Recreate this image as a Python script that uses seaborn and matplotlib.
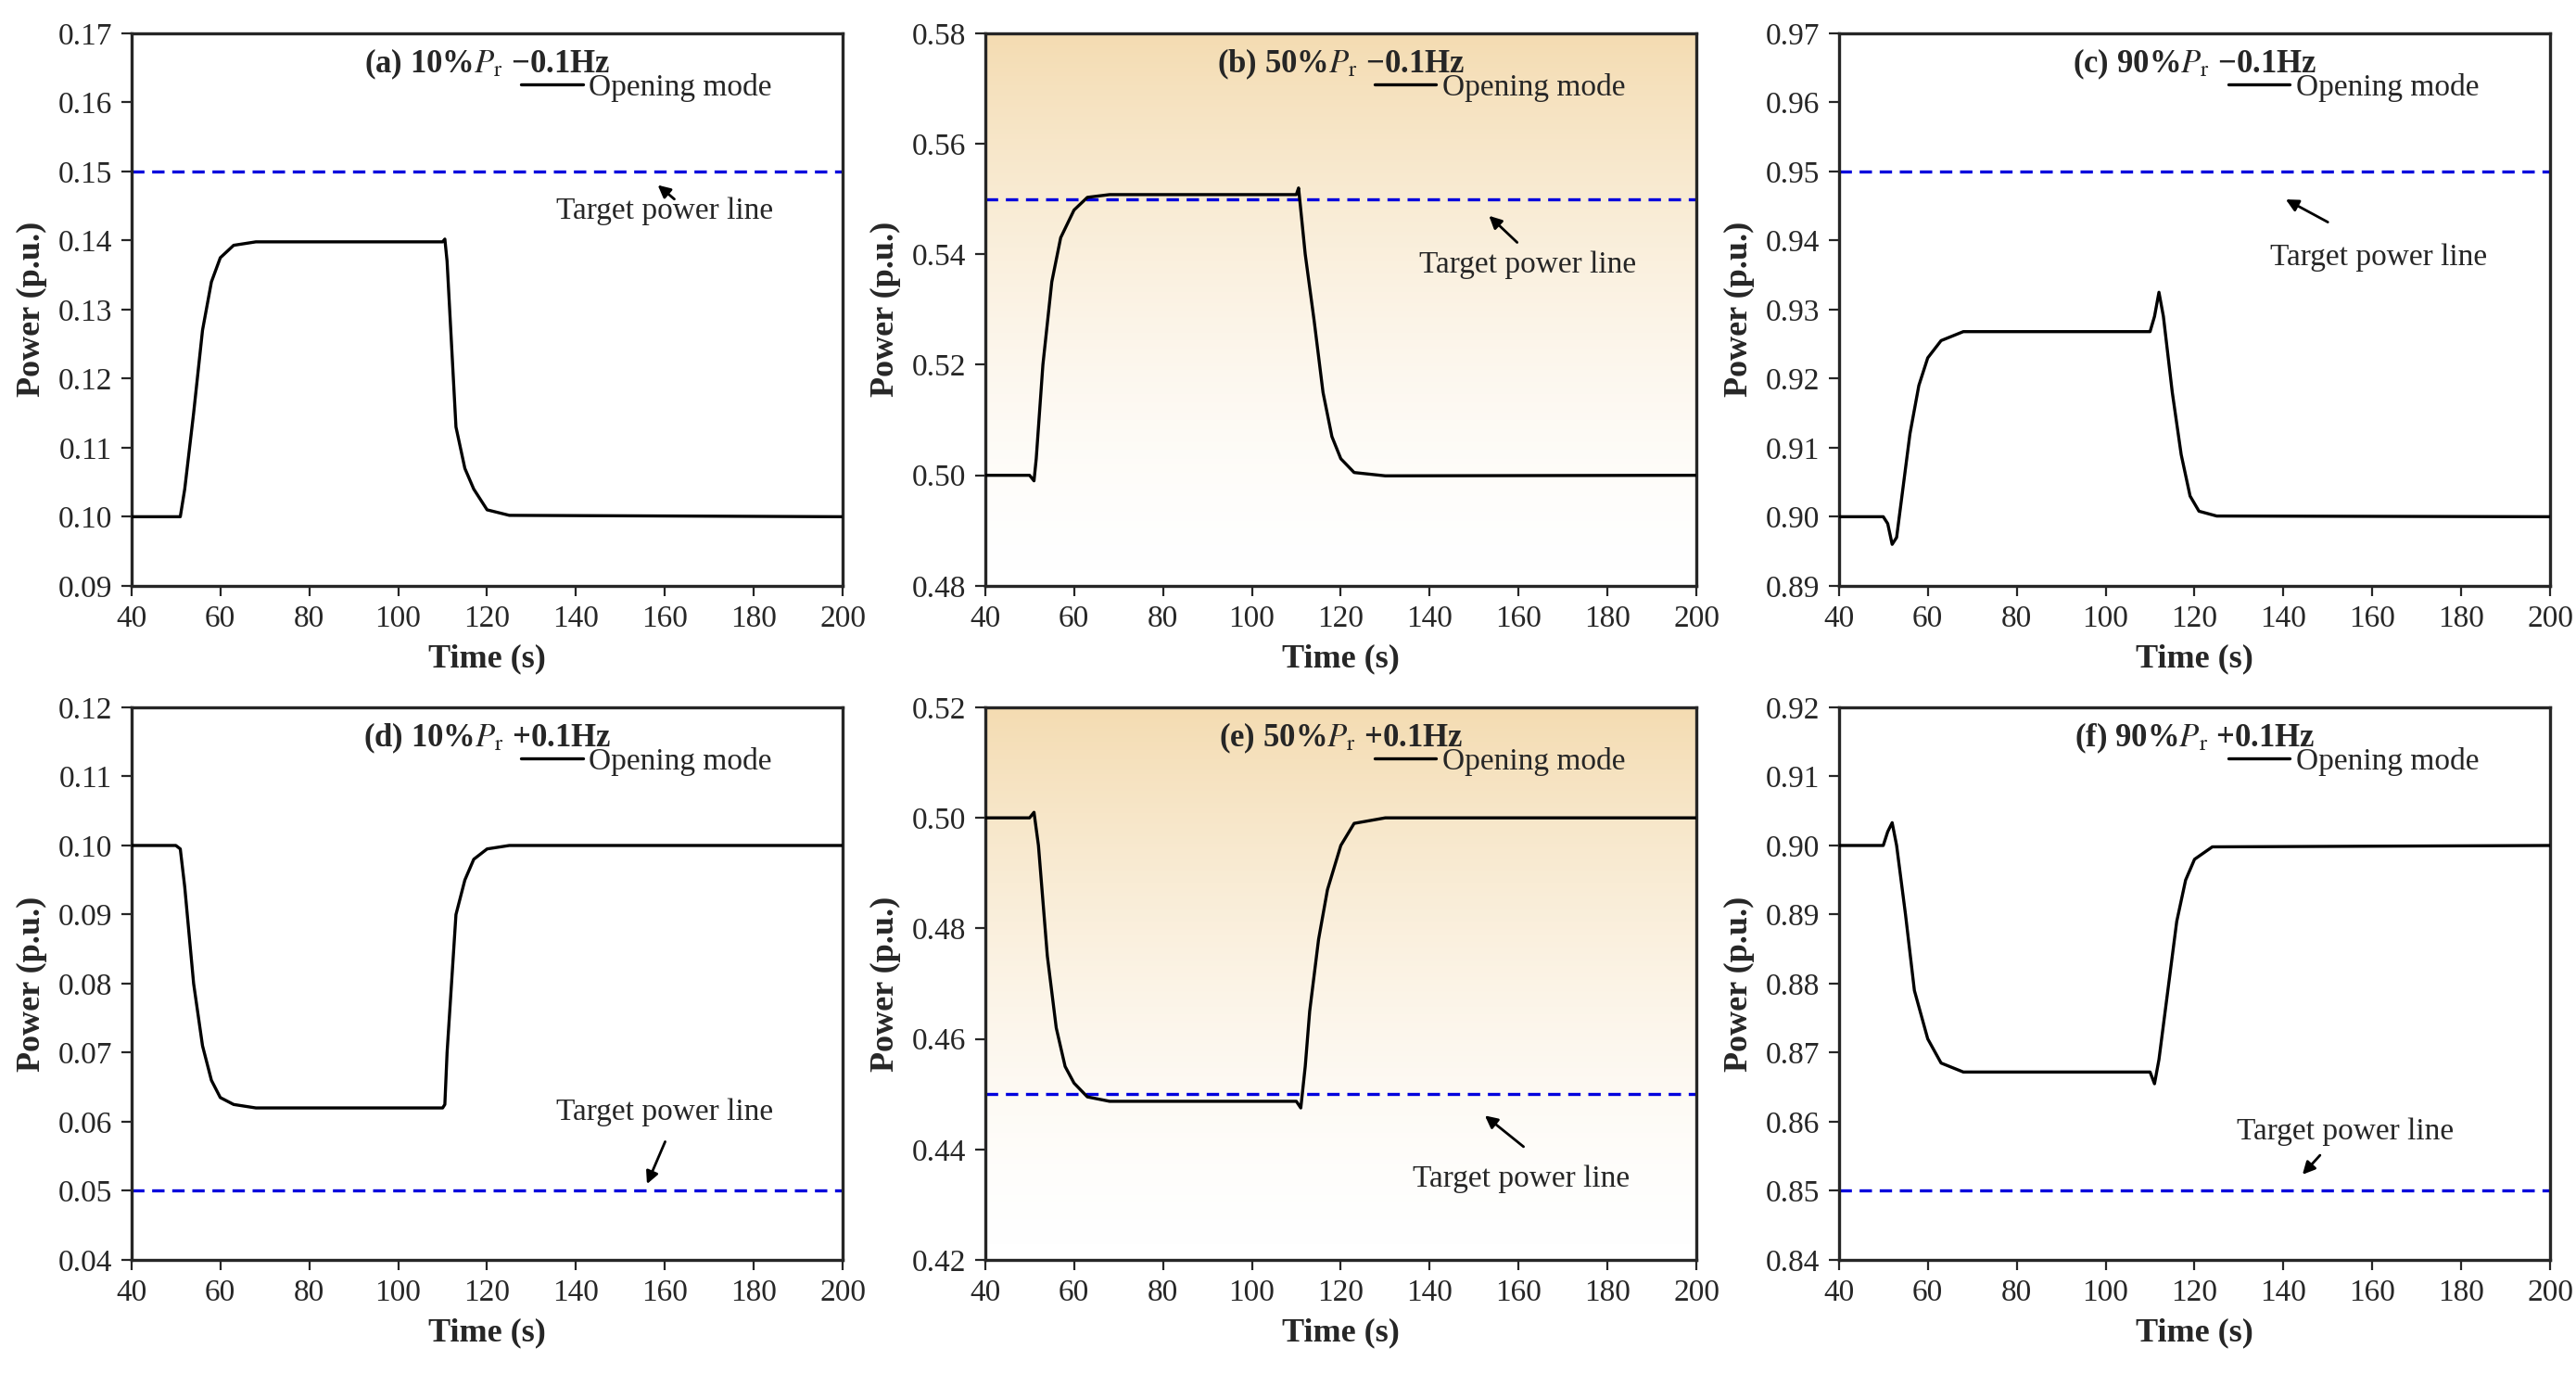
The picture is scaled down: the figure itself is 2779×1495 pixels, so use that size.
import seaborn as sns
import matplotlib.pyplot as plt
import numpy as np
import pandas as pd
from matplotlib.colors import LinearSegmentedColormap

sns.set_style('ticks')
plt.rcParams['font.family'] = ['Liberation Serif', 'DejaVu Serif']
plt.rcParams['mathtext.fontset'] = 'stix'
plt.rcParams['font.size'] = 12

# data
t_a = [40, 50, 51, 52, 54, 56, 58, 60, 63, 68, 110, 110.5, 111, 112, 113, 115, 117, 120, 125, 200]
p_a = [0.1, 0.1, 0.1, 0.104, 0.115, 0.127, 0.134, 0.1375, 0.1393, 0.1398, 0.1398, 0.1402, 0.137, 0.125,
       0.113, 0.107, 0.104, 0.101, 0.1002, 0.1]
t_b = [40, 50, 51, 51.5, 53, 55, 57, 60, 63, 68, 110, 110.5, 111, 112, 114, 116, 118, 120, 123, 130, 200]
p_b = [0.5, 0.5, 0.499, 0.503, 0.52, 0.535, 0.543, 0.548, 0.5503, 0.5508, 0.5508, 0.552, 0.548, 0.54,
       0.528, 0.515, 0.507, 0.503, 0.5005, 0.4999, 0.5]
t_c = [40, 50, 51, 52, 53, 54, 56, 58, 60, 63, 68, 110, 111, 112, 113, 115, 117, 119, 121, 125, 200]
p_c = [0.9, 0.9, 0.899, 0.896, 0.897, 0.902, 0.912, 0.919, 0.923, 0.9255, 0.9268, 0.9268, 0.929, 0.9325,
       0.929, 0.918, 0.909, 0.903, 0.9008, 0.9001, 0.9]
t_d = [40, 50, 51, 52, 54, 56, 58, 60, 63, 68, 110, 110.5, 111, 112, 113, 115, 117, 120, 125, 200]
p_d = [0.1, 0.1, 0.0995, 0.094, 0.08, 0.071, 0.066, 0.0635, 0.0625, 0.062, 0.062, 0.0625, 0.07, 0.08,
       0.09, 0.095, 0.098, 0.0995, 0.1, 0.1]
t_e = [40, 50, 51, 52, 54, 56, 58, 60, 63, 68, 110, 111, 112, 113, 115, 117, 120, 123, 130, 200]
p_e = [0.5, 0.5, 0.501, 0.495, 0.475, 0.462, 0.455, 0.452, 0.4495, 0.4487, 0.4487, 0.4475, 0.455, 0.465,
       0.478, 0.487, 0.495, 0.499, 0.5, 0.5]
t_f = [40, 50, 51, 52, 53, 55, 57, 60, 63, 68, 110, 111, 112, 114, 116, 118, 120, 124, 200]
p_f = [0.9, 0.9, 0.902, 0.9033, 0.9, 0.89, 0.879, 0.872, 0.8685, 0.8672, 0.8672, 0.8655, 0.869, 0.879,
       0.889, 0.895, 0.898, 0.8998, 0.9]

times = [t_a, t_b, t_c, t_d, t_e, t_f]
powers = [p_a, p_b, p_c, p_d, p_e, p_f]
targets = [0.15, 0.55, 0.95, 0.05, 0.45, 0.85]
titles = ['(a) 10%$\\it{P}_{\\rm r}$ \u22120.1Hz', '(b) 50%$\\it{P}_{\\rm r}$ \u22120.1Hz',
          '(c) 90%$\\it{P}_{\\rm r}$ \u22120.1Hz', '(d) 10%$\\it{P}_{\\rm r}$ +0.1Hz',
          '(e) 50%$\\it{P}_{\\rm r}$ +0.1Hz', '(f) 90%$\\it{P}_{\\rm r}$ +0.1Hz']
ylims = [(0.09, 0.17, 0.01), (0.48, 0.58, 0.02), (0.89, 0.97, 0.01),
         (0.04, 0.12, 0.01), (0.42, 0.52, 0.02), (0.84, 0.92, 0.01)]
# arrow head, arrow tail, text centre
annots = [((157.5, 0.1485), (163, 0.1455), (160, 0.1443)),
          ((152.5, 0.5476), (160.5, 0.5415), (162, 0.538)),
          ((139.5, 0.9463), (151, 0.9423), (161.5, 0.9376)),
          ((155.5, 0.0503), (160.5, 0.0578), (160, 0.0614)),
          ((151.5, 0.4467), (162, 0.4399), (160.5, 0.4346)),
          ((143.5, 0.8518), (149, 0.8557), (154, 0.8586))]
shaded = [False, True, False, False, True, False]

grad = LinearSegmentedColormap.from_list('g', ['white', '#f4dcb2'])

fig, axes = plt.subplots(2, 3, figsize=(13.895, 7.475), dpi=200)
plt.subplots_adjust(left=0.051, right=0.99, top=0.976, bottom=0.091, wspace=0.2, hspace=0.22)

for i, ax in enumerate(axes.flat):
    lo, hi, st = ylims[i]
    if shaded[i]:
        g = np.linspace(0, 1, 256).reshape(-1, 1)[::-1] ** 1.6
        ax.imshow(g, aspect='auto', cmap=grad, extent=(40, 200, lo, hi), zorder=0)
    df = pd.DataFrame({'t': times[i], 'p': powers[i]})
    sns.lineplot(data=df, x='t', y='p', ax=ax, color='black', lw=1.2, label='Opening mode', zorder=3)
    ax.axhline(targets[i], color='#0000dd', ls=(0, (4, 2.5)), lw=1.2, zorder=2)
    ax.set_xlim(40, 200)
    ax.set_ylim(lo, hi)
    ax.set_xticks(np.arange(40, 201, 20))
    ax.set_yticks(np.arange(lo, hi + st / 2, st))
    ax.yaxis.set_major_formatter(plt.FormatStrFormatter('%.2f'))
    ax.set_xlabel('Time (s)', fontsize=13, fontweight='bold')
    ax.set_ylabel('Power (p.u.)', fontsize=13, fontweight='bold')
    ax.tick_params(labelsize=12, direction='out', length=4)
    for s in ax.spines.values():
        s.set_linewidth(1.2)
        s.set_visible(True)
    ax.text(0.5, 0.975, titles[i], transform=ax.transAxes, ha='center', va='top',
            fontsize=12.5, fontweight='bold')
    ax.legend(frameon=False, loc='upper left', bbox_to_anchor=(0.53, 0.95), fontsize=12,
              handlelength=2.0, handletextpad=0.2, borderaxespad=0)
    head, tail, txt = annots[i]
    ax.annotate('', xy=head, xytext=tail,
                arrowprops=dict(arrowstyle='-|>', color='black', lw=1, mutation_scale=10))
    ax.text(txt[0], txt[1], 'Target power line', fontsize=12, ha='center', va='center')

plt.savefig('out.png', dpi=200)
